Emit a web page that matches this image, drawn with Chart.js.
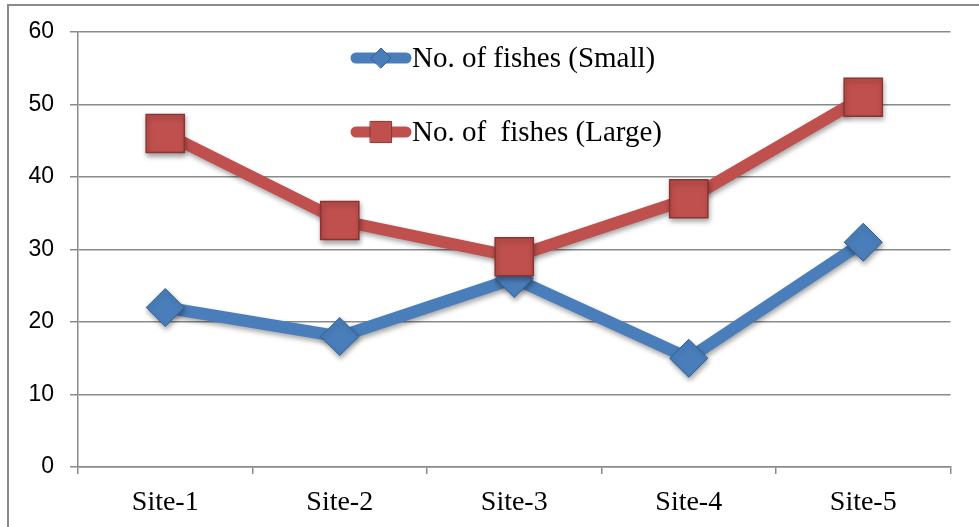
<!DOCTYPE html>
<html><head><meta charset="utf-8">
<script src="https://cdn.jsdelivr.net/npm/chart.js@4/dist/chart.umd.min.js"></script>
<style>html,body{margin:0;padding:0;background:#fff}#wrap{width:979px;height:527px;position:relative}</style>
</head><body><div id="wrap"><canvas id="c" width="979" height="527"></canvas></div>
<script>
const categories = ["Site-1","Site-2","Site-3","Site-4","Site-5"];
const smallFish = [22, 18, 26, 15, 31];
const largeFish = [46, 34, 29, 37, 51];
const seriesLabels = ["No. of fishes (Small)", "No. of  fishes (Large)"];
const yTicks = [0,10,20,30,40,50,60];

const BLUE = '#4a7ebb', BLUE_D = '#2f5f98';
const RED = '#c0504d', RED_D = '#8a3431';

const framePlugin = {
  id: 'frame',
  beforeDraw(chart) {
    const ctx = chart.ctx;
    ctx.save();
    ctx.fillStyle = '#fff';
    ctx.fillRect(0,0,chart.width,chart.height);
    ctx.strokeStyle = '#8a8a8a';
    ctx.lineWidth = 2;
    ctx.strokeRect(8, 5, 1200, 1200);
    ctx.restore();
  }
};
const shadowPlugin = {
  id: 'shadow',
  beforeDatasetDraw(chart) {
    const ctx = chart.ctx; ctx.save();
    ctx.shadowColor = 'rgba(0,0,0,0.35)'; ctx.shadowBlur = 5; ctx.shadowOffsetX = 1; ctx.shadowOffsetY = 3;
  },
  afterDatasetDraw(chart) { chart.ctx.restore(); }
};
const legendPlugin = {
  id: 'customLegend',
  afterDatasetsDraw(chart) {
    const ctx = chart.ctx;
    const items = [
      {y: 58, ds: chart.data.datasets[0], style: 'rectRot', r: 10},
      {y: 132, ds: chart.data.datasets[1], style: 'rect', r: 15}
    ];
    ctx.save();
    items.forEach(it => {
      ctx.strokeStyle = it.ds.borderColor;
      ctx.lineWidth = 11; ctx.lineCap = 'round';
      ctx.beginPath(); ctx.moveTo(356, it.y); ctx.lineTo(406, it.y); ctx.stroke();
      ctx.fillStyle = it.ds.pointBackgroundColor;
      ctx.strokeStyle = it.ds.pointBorderColor;
      ctx.lineWidth = 1;
      Chart.helpers.drawPoint(ctx, {pointStyle: it.style, rotation: 0, radius: it.r, borderWidth: 1}, 381, it.y);
      ctx.fillStyle = '#000';
      ctx.font = '29px "Liberation Serif", "Times New Roman", serif';
      ctx.textBaseline = 'middle'; ctx.textAlign = 'left';
      ctx.fillText(it.ds.label, 412, it.y + 1);
    });
    ctx.restore();
  }
};

new Chart(document.getElementById('c'), {
  type: 'line',
  data: {
    labels: categories,
    datasets: [
      {label: seriesLabels[0], data: smallFish, borderColor: BLUE, borderWidth: 12,
       pointStyle: 'rectRot', pointRadius: 19, pointBackgroundColor: BLUE, pointBorderColor: BLUE_D,
       pointBorderWidth: 1, order: 2, tension: 0, borderCapStyle: 'round', borderJoinStyle: 'round'},
      {label: seriesLabels[1], data: largeFish, borderColor: RED, borderWidth: 12,
       pointStyle: 'rect', pointRadius: 27, pointBackgroundColor: RED, pointBorderColor: RED_D,
       pointBorderWidth: 1.5, order: 1, tension: 0, borderCapStyle: 'round', borderJoinStyle: 'round'}
    ]
  },
  options: {
    responsive: false, animation: false, devicePixelRatio: 1,
    layout: {padding: {left: 0, right: 24, top: 32, bottom: 0}},
    plugins: {legend: {display: false}, tooltip: {enabled: false}},
    scales: {
      x: {
        offset: true,
        grid: {display: true, drawOnChartArea: false, tickLength: 7, color: '#8a8a8a', lineWidth: 1.5, offset: true},
        border: {display: true, color: '#8a8a8a', width: 1.5},
        ticks: {color: '#000', padding: 12, font: {family: '"Liberation Serif", "Times New Roman", serif', size: 28}},
        afterFit(s) { s.height = 60; }
      },
      y: {
        min: 0, max: 60,
        afterBuildTicks(s) { s.ticks = yTicks.map(v => ({value: v})); },
        grid: {color: '#8a8a8a', lineWidth: 1.5, tickLength: 8},
        border: {display: true, color: '#8a8a8a', width: 1.5},
        ticks: {color: '#000', padding: 16, font: {family: '"Liberation Sans", Arial, sans-serif', size: 23}},
        afterFit(s) { s.width = 78; }
      }
    }
  },
  plugins: [framePlugin, shadowPlugin, legendPlugin]
});
</script></body></html>
